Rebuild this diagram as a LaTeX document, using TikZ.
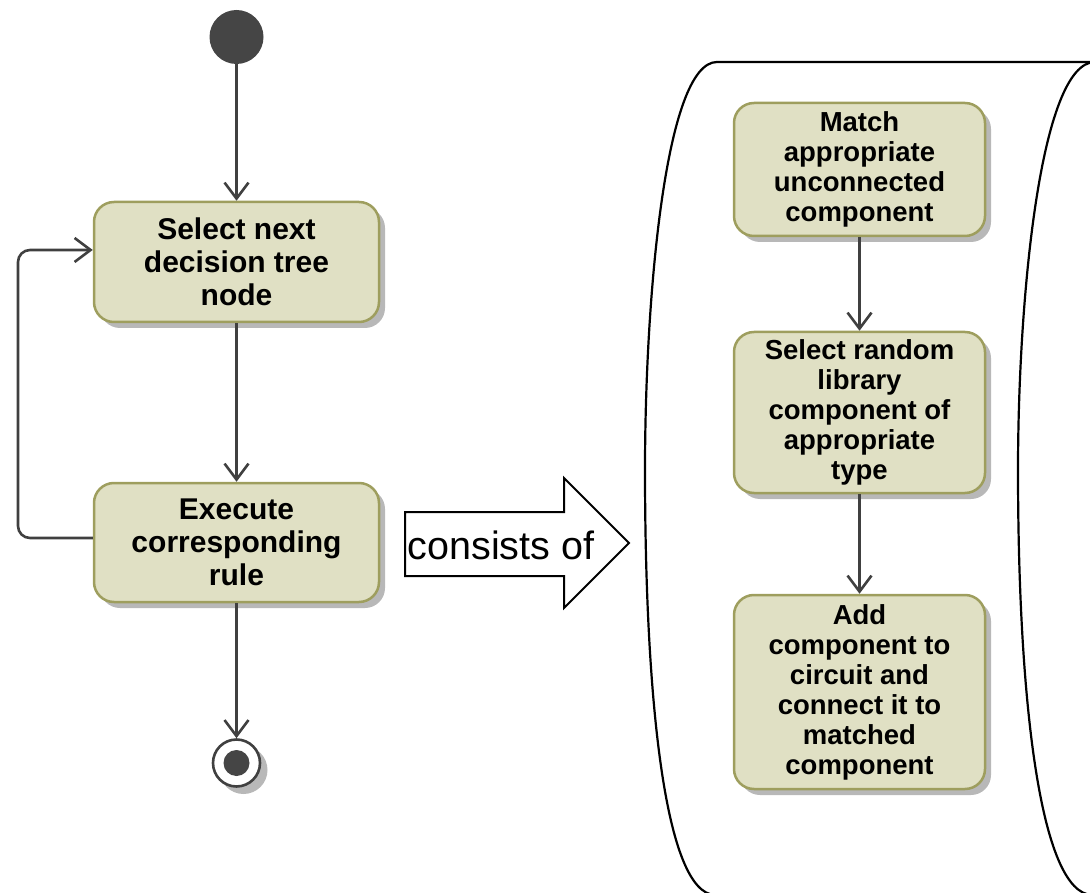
\documentclass[tikz,border=0pt]{standalone}
\usepackage{fontspec}
\setmainfont{Liberation Sans}
\usetikzlibrary{arrows.meta,calc}
\definecolor{actfill}{HTML}{E0E0C4}
\definecolor{actline}{HTML}{9E9E5E}
\definecolor{shadowgray}{HTML}{B8B8B8}
\definecolor{flowline}{HTML}{404040}
\definecolor{dotfill}{HTML}{454545}
\tikzset{
  actbox/.style={rectangle, rounded corners=20pt, draw=actline, line width=2.5pt,
    fill=actfill, inner sep=0pt, align=center,
    preaction={fill=shadowgray, draw=none, transform canvas={shift={(6pt,-6pt)}}}},
  leftbox/.style={actbox, minimum width=285pt, font=\fontsize{30}{33}\selectfont\bfseries},
  rightbox/.style={actbox, minimum width=251pt, font=\fontsize{27.5}{30}\selectfont\bfseries},
  flow/.style={draw=flowline, line width=2.6pt,
    -{Straight Barb[length=16pt,width=24pt,line width=2.6pt]}},
  tape/.style={draw=black, line width=2.2pt},
}
\begin{document}
\begin{tikzpicture}[x=1pt,y=-1pt]
\useasboundingbox (0,0) rectangle (1090,893);

% container for the sub-activity
\draw[tape] (1095,62) -- (717,62)
  .. controls (665,62) and (645,300) .. (645,470)
  .. controls (645,700) and (665,893) .. (715,895);
\draw[tape] (1095,62)
  .. controls (1040,62) and (1018,300) .. (1018,470)
  .. controls (1018,700) and (1040,893) .. (1092,895);

% initial node
\node[circle, fill=dotfill, minimum size=54pt, inner sep=0pt] (start) at (236.5,37) {};

% main actions
\node[leftbox, minimum height=120pt] (b1) at (236.5,262) {Select next\\decision tree\\node};
\node[leftbox, minimum height=119pt] (b2) at (236.5,542.5) {Execute\\corresponding\\rule};

% final node
\fill[shadowgray] (243.5,770) circle (24pt);
\node[circle, draw=flowline, line width=2.6pt, fill=white, minimum size=47pt, inner sep=0pt] (final) at (236.5,763) {};
\fill[dotfill] (final.center) circle (13pt);

% flows on the left
\draw[flow] (start) -- (b1);
\draw[flow] (b1) -- (b2);
\draw[flow] (b2) -- (final);
\coordinate (loopx) at (18,400);
\draw[flow, rounded corners=12pt] ([yshift=4.5pt]b2.west) -| (loopx) |- ([yshift=12pt]b1.west);

% block arrow
\draw[black, line width=2pt, fill=white]
  (405,512) -- (564,512) -- (564,478) -- (629,543) -- (564,608) -- (564,576) -- (405,576) -- cycle;
\node[font=\fontsize{39.5}{41}\selectfont, anchor=center] (cons) at (501,545) {consists of};

% sub-activity actions
\node[rightbox, minimum height=133pt] (r1) at (859.5,169.5) {Match\\appropriate\\unconnected\\component};
\node[rightbox, minimum height=161pt] (r2) at (859.5,412.5) {Select random\\library\\component of\\appropriate\\type};
\node[rightbox, minimum height=194pt] (r3) at (859.5,692) {Add\\component to\\circuit and\\connect it to\\matched\\component};

\draw[flow] (r1) -- (r2);
\draw[flow] (r2) -- (r3);
\end{tikzpicture}
\end{document}
